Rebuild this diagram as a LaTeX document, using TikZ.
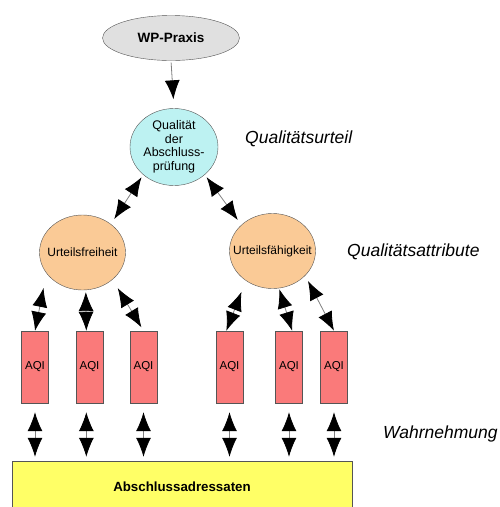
\documentclass[tikz,border=0pt]{standalone}
\usepackage{fontspec}
\setmainfont{Liberation Sans}
\usetikzlibrary{shapes,arrows.meta}

\definecolor{praxisgray}{HTML}{E0E0E0}
\definecolor{urteilcyan}{HTML}{BDF2F2}
\definecolor{attributorange}{HTML}{FACA96}
\definecolor{aqired}{HTML}{FA7A7A}
\definecolor{adressatyellow}{HTML}{FFFF66}
\definecolor{randgray}{HTML}{555555}

\tikzset{
    praxis/.style={ellipse, draw=randgray, fill=praxisgray, inner sep=0pt,
        minimum width=137pt, minimum height=45pt, font=\fontsize{13.5}{16}\selectfont\bfseries},
    urteil/.style={ellipse, draw=randgray, fill=urteilcyan, inner sep=0pt, align=center,
        minimum width=88pt, minimum height=77pt, font=\fontsize{12.5}{13.5}\selectfont},
    attribut/.style={ellipse, draw=randgray, fill=attributorange, inner sep=0pt,
        minimum width=86pt, minimum height=75pt, font=\fontsize{12}{14}\selectfont},
    aqi/.style={rectangle, draw=randgray, fill=aqired, inner sep=0pt,
        minimum width=27pt, minimum height=72pt, font=\fontsize{11.5}{13}\selectfont},
    adressat/.style={rectangle, draw=randgray, fill=adressatyellow, inner sep=0pt,
        minimum width=340pt, minimum height=52pt, font=\fontsize{13.3}{16}\selectfont\bfseries},
    ebene/.style={anchor=base west, inner sep=0pt, font=\fontsize{17.5}{20}\selectfont\itshape},
    pfeilkopf/.tip={Latex[length=19pt,width=15pt,color=black]},
    einpfeil/.style={-pfeilkopf, draw=gray, line width=0.8pt},
    biarrow/.style={pfeilkopf-pfeilkopf, draw=gray, line width=0.8pt}
}

\begin{document}
\begin{tikzpicture}[x=1pt,y=-1pt]
    \useasboundingbox (0,0) rectangle (499,507);

    % Knoten
    \node[praxis] (wp) at (171,38) {WP-Praxis};
    \node[urteil] (qual) at (174,147) {Qualität\\der\\Abschluss-\\prüfung};
    \node[attribut] (uf) at (82.5,252.5) {\makebox[0pt]{Urteilsfreiheit}};
    \node[attribut] (ufa) at (272.5,251) {\makebox[0pt]{Urteilsfähigkeit}};
    \foreach \n/\x in {1/35,2/89.5,3/143.5,4/229.5,5/289,6/334} {
        \node[aqi] (aqi\n) at (\x,367) {AQI};
    }
    \node[adressat] (ab) at (182,487) {Abschlussadressaten};

    % Ebenen
    \node[ebene] (lurteil) at (245,143) {Qualitätsurteil};
    \node[ebene] (lattribut) at (347,256) {Qualitätsattribute};
    \node[ebene] (lwahr) at (383,438) {Wahrnehmung};

    % Pfeile
    \draw[einpfeil, shorten <=2pt, shorten >=9pt] (wp.south) -- (qual.north);
    \draw[biarrow, shorten <=3pt, shorten >=6pt] (qual.222) -- (uf.45);
    \draw[biarrow, shorten <=3pt, shorten >=6pt] (qual.318) -- (ufa.140);

    \draw[biarrow, shorten <=15pt] (uf.210) -- (aqi1.north);
    \draw[biarrow, shorten <=2pt] (uf.-85) -- (aqi2.95);
    \draw[biarrow, shorten <=10pt, shorten >=4pt] (uf.-42) -- (aqi3.north);
    \draw[biarrow, shorten <=12pt] (ufa.228) -- (aqi4.95);
    \draw[biarrow, shorten <=1pt] (ufa.-80) -- (aqi5.85);
    \draw[biarrow, shorten <=6pt] (ufa.-37) -- (aqi6.north);

    \foreach \n/\a in {1/-90,2/-95,3/-90,4/-90,5/-90,6/-90} {
        \draw[biarrow, shorten <=9pt, shorten >=4pt] (aqi\n.\a) -- (aqi\n.\a |- ab.north);
    }
\end{tikzpicture}
\end{document}
